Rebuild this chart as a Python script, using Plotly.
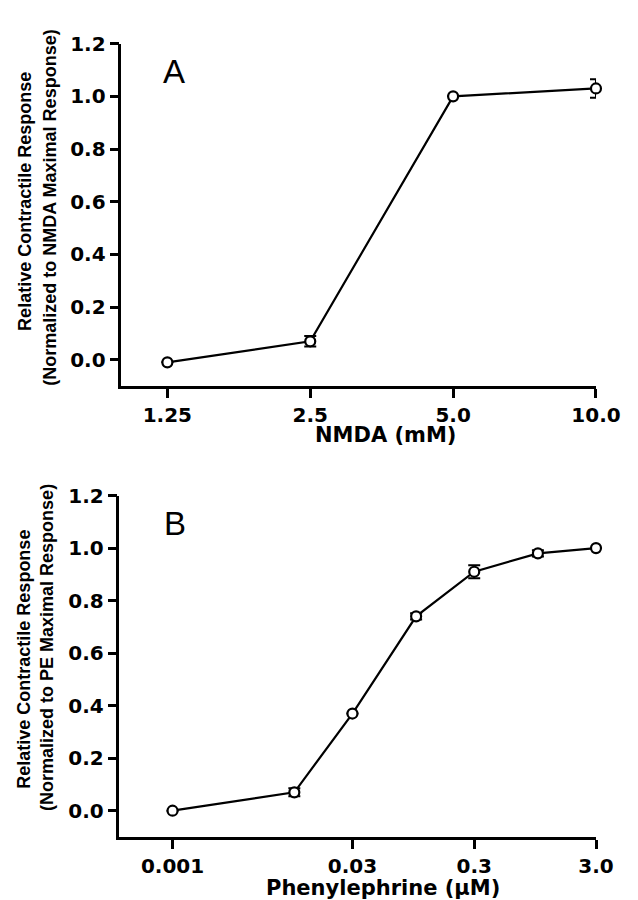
import plotly.graph_objects as go

# Panel A data
nmda_conc = [1.25, 2.5, 5.0, 10.0]
nmda_resp = [-0.01, 0.07, 1.0, 1.03]
nmda_err = [0.0, 0.02, 0.0, 0.035]
nmda_tickvals = [1.25, 2.5, 5.0, 10.0]
nmda_ticktext = ["1.25", "2.5", "5.0", "10.0"]

# Panel B data
pe_conc = [0.001, 0.01, 0.03, 0.1, 0.3, 1.0, 3.0]
pe_resp = [0.0, 0.07, 0.37, 0.74, 0.91, 0.98, 1.0]
pe_err = [0.0, 0.015, 0.0, 0.012, 0.025, 0.012, 0.0]
pe_tickvals = [0.001, 0.03, 0.3, 3.0]
pe_ticktext = ["0.001", "0.03", "0.3", "3.0"]

y_tickvals = [0.0, 0.2, 0.4, 0.6, 0.8, 1.0, 1.2]
y_ticktext = ["0.0", "0.2", "0.4", "0.6", "0.8", "1.0", "1.2"]

W, H = 638, 900
tickfont = dict(family="DejaVu Sans", size=20, color="black", weight="bold")

fig = go.Figure()

marker = dict(symbol="circle", size=10, color="white", line=dict(color="black", width=2.2))

fig.add_trace(go.Scatter(
    x=nmda_conc, y=nmda_resp, mode="lines+markers",
    line=dict(color="black", width=2.2), marker=marker,
    error_y=dict(type="data", array=nmda_err, visible=True, color="black", thickness=2, width=6),
    xaxis="x", yaxis="y", showlegend=False, cliponaxis=False))

fig.add_trace(go.Scatter(
    x=pe_conc, y=pe_resp, mode="lines+markers",
    line=dict(color="black", width=2.2), marker=marker,
    error_y=dict(type="data", array=pe_err, visible=True, color="black", thickness=2, width=6),
    xaxis="x2", yaxis="y2", showlegend=False, cliponaxis=False))

def px_x(p):
    return p / W

def px_y(p):
    return 1 - p / H

axis_common = dict(showline=True, linecolor="black", linewidth=2.5, ticks="outside",
                   ticklen=9, tickwidth=2.5, tickcolor="black", showgrid=False,
                   zeroline=False, tickfont=tickfont)

fig.update_layout(
    width=W, height=H,
    margin=dict(l=0, r=0, t=0, b=0),
    paper_bgcolor="white", plot_bgcolor="white",
    xaxis=dict(type="log", range=[0, 1.0001], domain=[px_x(118), px_x(612)],
               tickvals=nmda_tickvals, ticktext=nmda_ticktext, anchor="y", **axis_common),
    yaxis=dict(range=[-0.1, 1.2], domain=[px_y(371), px_y(24)],
               tickvals=y_tickvals, ticktext=y_ticktext, anchor="x", **axis_common),
    xaxis2=dict(type="log", range=[-3.436, 0.4772], domain=[px_x(116), px_x(612)],
                tickvals=pe_tickvals, ticktext=pe_ticktext, anchor="y2", **axis_common),
    yaxis2=dict(range=[-0.1, 1.2], domain=[px_y(828), px_y(482)],
                tickvals=y_tickvals, ticktext=y_ticktext, anchor="x2", **axis_common),
)

title_font = dict(family="DejaVu Sans", size=21, color="black", weight="bold")
ylab_font = dict(family="Liberation Sans", size=18, color="black", weight="bold")
panel_font = dict(family="Liberation Sans", size=33, color="black")

annotations = [
    dict(text="NMDA (mM)", x=px_x(393), y=px_y(421), font=title_font),
    dict(text="Phenylephrine (\u03bcM)", x=px_x(390), y=px_y(880), font=title_font),
    dict(text="Relative Contractile Response", x=px_x(17), y=px_y(184), font=ylab_font, textangle=-90),
    dict(text="(Normalized to NMDA Maximal Response)", x=px_x(44), y=px_y(190), font=ylab_font, textangle=-90),
    dict(text="Relative Contractile Response", x=px_x(17), y=px_y(648), font=ylab_font, textangle=-90),
    dict(text="(Normalized to PE Maximal Response)", x=px_x(40), y=px_y(636), font=ylab_font, textangle=-90),
    dict(text="A", x=px_x(173), y=px_y(52), font=panel_font),
    dict(text="B", x=px_x(174), y=px_y(510), font=panel_font),
]
for a in annotations:
    a.update(xref="paper", yref="paper", showarrow=False, xanchor="center", yanchor="middle")
fig.update_layout(annotations=annotations)

fig.write_html("out.html")
